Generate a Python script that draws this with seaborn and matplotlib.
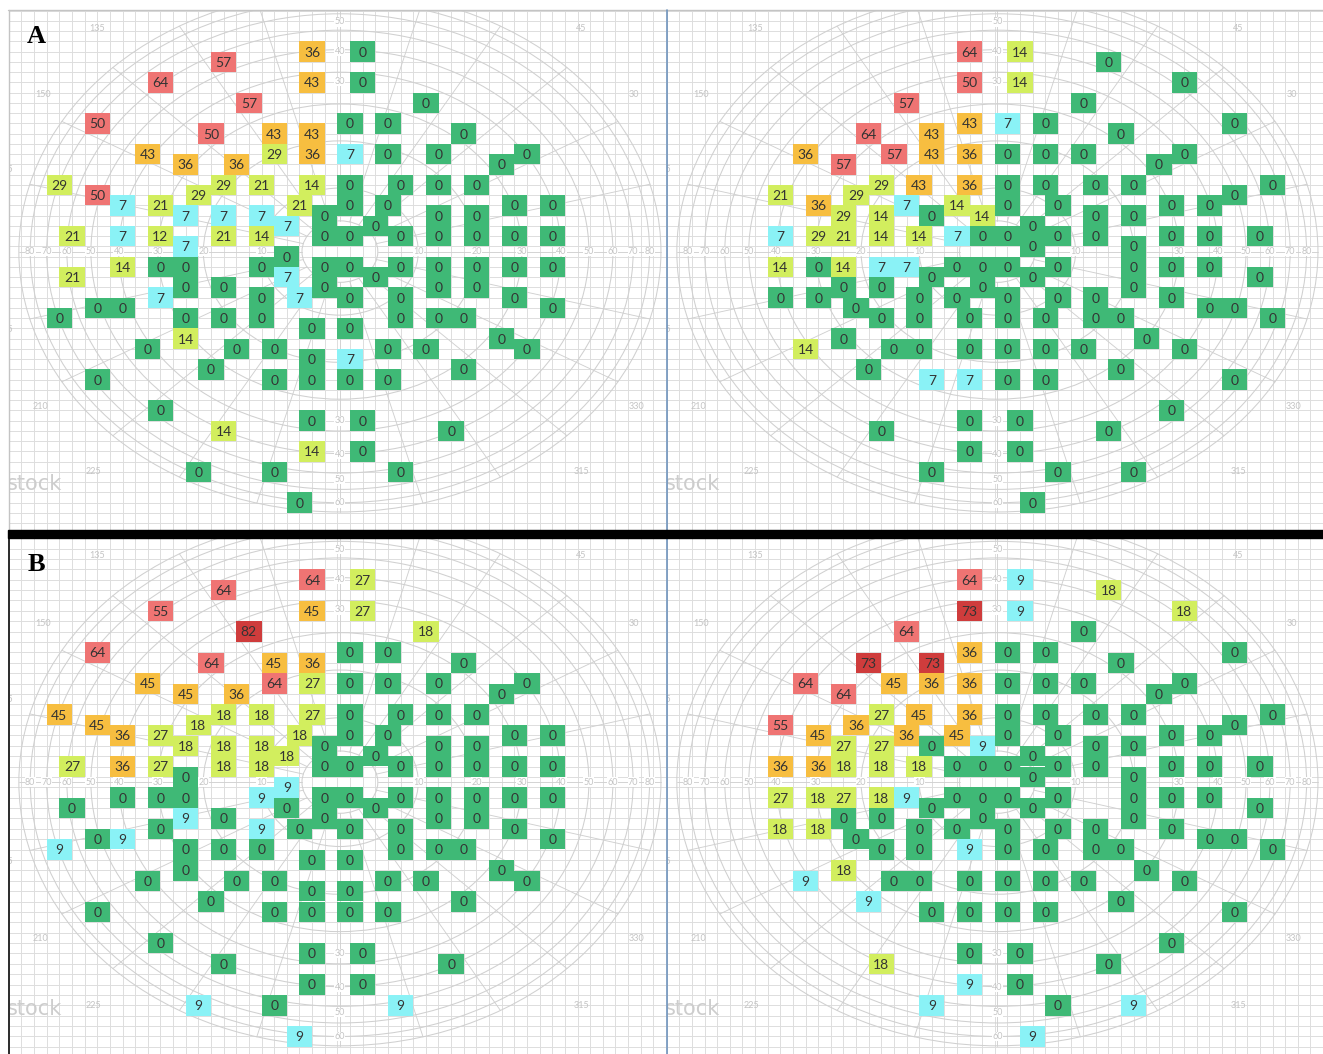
import numpy as np
import pandas as pd
import seaborn as sns
import matplotlib.pyplot as plt
from matplotlib.patches import Circle, Rectangle
from matplotlib.lines import Line2D

# === DATA: test points on the perimetry grid (row index, columns per row) ===
# left eye charts (A left, B left share the same test points)
LEFT_ROWS = [0, 1, 3, 5, 7, 8, 10, 11, 13, 14, 15, 16, 17, 18, 19, 20, 21, 22,
             23, 24, 25, 26, 27, 28, 29, 30, 31, 32, 35, 36, 37, 39, 41, 44]
LEFT_COLS = [
    [20, 24], [13], [8, 20, 24], [15, 29], [3, 23, 26], [12, 17, 20, 32],
    [7, 17, 20, 23, 26, 30, 37], [10, 14, 35], [0, 13, 16, 20, 23, 27, 30, 33],
    [3, 11], [5, 8, 19, 23, 26, 36, 39], [10, 13, 16, 21, 30, 33], [18, 25],
    [1, 5, 8, 13, 16, 21, 23, 27, 30, 33, 36, 39], [10], [18],
    [5, 8, 10, 16, 21, 23, 27, 30, 33, 36, 39], [1, 18, 25], [10, 13, 21, 30, 33],
    [8, 16, 19, 23, 27, 36], [3, 5, 39], [0, 10, 13, 16, 27, 30, 32], [20, 23],
    [10, 35], [7, 14, 17, 26, 29, 37], [20, 23], [12, 32], [3, 17, 20, 23, 26],
    [8], [20, 24], [13, 31], [20, 24], [11, 17, 27], [19],
]
A_LEFT_VALUES = [
    [36, 0], [57], [64, 43, 0], [57, 0], [50, 0, 0], [50, 43, 43, 0],
    [43, 29, 36, 7, 0, 0, 0], [36, 36, 0], [29, 29, 21, 14, 0, 0, 0, 0],
    [50, 29], [7, 21, 21, 0, 0, 0, 0], [7, 7, 7, 0, 0, 0], [7, 0],
    [21, 7, 12, 21, 14, 0, 0, 0, 0, 0, 0, 0], [7], [0],
    [14, 0, 0, 0, 0, 0, 0, 0, 0, 0, 0], [21, 7, 0], [0, 0, 0, 0, 0],
    [7, 0, 7, 0, 0, 0], [0, 0, 0], [0, 0, 0, 0, 0, 0, 0], [0, 0],
    [14, 0], [0, 0, 0, 0, 0, 0], [0, 7], [0, 0], [0, 0, 0, 0, 0],
    [0], [0, 0], [14, 0], [14, 0], [0, 0, 0], [0],
]
B_LEFT_VALUES = [
    [64, 27], [64], [55, 45, 27], [82, 18], [64, 0, 0], [64, 45, 36, 0],
    [45, 64, 27, 0, 0, 0, 0], [45, 36, 0], [45, 18, 18, 27, 0, 0, 0, 0],
    [45, 18], [36, 27, 18, 0, 0, 0, 0], [18, 18, 18, 0, 0, 0], [18, 0],
    [27, 36, 27, 18, 18, 0, 0, 0, 0, 0, 0, 0], [0], [9],
    [0, 0, 0, 9, 0, 0, 0, 0, 0, 0, 0], [0, 0, 0], [9, 0, 0, 0, 0],
    [0, 9, 0, 0, 0, 0], [0, 9, 0], [9, 0, 0, 0, 0, 0, 0], [0, 0],
    [0, 0], [0, 0, 0, 0, 0, 0], [0, 0], [0, 0], [0, 0, 0, 0, 0],
    [0], [0, 0], [0, 0], [0, 0], [9, 0, 9], [9],
]

# right eye charts (A right, B right)
RIGHT_ROWS = [0, 1, 3, 5, 7, 8, 10, 11, 13, 14, 15, 16, 17, 18, 19, 21, 22,
              23, 24, 25, 26, 28, 29, 31, 32, 35, 36, 37, 39, 41, 44]
RIGHT_COLS = [
    [20, 24], [31], [20, 24, 37], [15, 29], [20, 23, 26, 41], [12, 17, 32],
    [7, 14, 17, 20, 23, 26, 29, 37], [10, 35], [13, 16, 20, 23, 26, 30, 33, 44],
    [5, 11, 41], [8, 15, 19, 23, 27, 36, 39], [10, 13, 17, 21, 30, 33], [25],
    [5, 8, 10, 13, 16, 19, 21, 23, 27, 30, 36, 39, 43], [25, 33],
    [5, 8, 10, 13, 15, 19, 21, 23, 27, 33, 36, 39], [17, 25, 43],
    [10, 13, 21, 33], [5, 8, 16, 19, 23, 27, 30, 36], [11, 39, 41],
    [13, 16, 20, 23, 26, 30, 32, 44], [10, 34], [7, 14, 16, 20, 23, 26, 29, 37],
    [12, 32], [17, 20, 23, 26, 41], [36], [20, 24], [13, 31], [20, 24],
    [17, 27, 33], [25],
]
A_RIGHT_VALUES = [
    [64, 14], [0], [50, 14, 0], [57, 0], [43, 7, 0, 0], [64, 43, 0],
    [36, 57, 43, 36, 0, 0, 0, 0], [57, 0], [29, 43, 36, 0, 0, 0, 0, 0],
    [21, 29, 0], [36, 7, 14, 0, 0, 0, 0], [29, 14, 0, 14, 0, 0], [0],
    [7, 29, 21, 14, 14, 7, 0, 0, 0, 0, 0, 0, 0], [0, 0],
    [14, 0, 14, 7, 7, 0, 0, 0, 0, 0, 0, 0], [0, 0, 0],
    [0, 0, 0, 0], [0, 0, 0, 0, 0, 0, 0, 0], [0, 0, 0],
    [0, 0, 0, 0, 0, 0, 0, 0], [0, 0], [14, 0, 0, 0, 0, 0, 0, 0],
    [0, 0], [7, 7, 0, 0, 0], [0], [0, 0], [0, 0], [0, 0],
    [0, 0, 0], [0],
]
B_RIGHT_VALUES = [
    [64, 9], [18], [73, 9, 18], [64, 0], [36, 0, 0, 0], [73, 73, 0],
    [64, 45, 36, 36, 0, 0, 0, 0], [64, 0], [27, 45, 36, 0, 0, 0, 0, 0],
    [55, 36, 0], [45, 36, 45, 0, 0, 0, 0], [27, 27, 0, 9, 0, 0], [0],
    [36, 36, 18, 18, 18, 0, 0, 0, 0, 0, 0, 0, 0], [0, 0],
    [27, 18, 27, 18, 9, 0, 0, 0, 0, 0, 0, 0], [0, 0, 0],
    [0, 0, 0, 0], [18, 18, 0, 0, 0, 0, 0, 0], [0, 0, 0],
    [0, 0, 9, 0, 0, 0, 0, 0], [18, 0], [9, 0, 0, 0, 0, 0, 0, 0],
    [9, 0], [0, 0, 0, 0, 0], [0], [0, 0], [18, 0], [9, 0],
    [9, 0, 9], [9],
]

# === STYLE ===
BAND_COLORS = {
    "0": "#3fb976",
    "1-9": "#8af2f6",
    "10-29": "#d2ee5e",
    "30-49": "#f7be40",
    "50-69": "#ef7473",
    "70+": "#cf3c3c",
}
GRID_COLOR = "#dddddd"
RING_COLOR = "#d0d0d0"
LABEL_COLOR = "#c4c4c4"
CX, CY = 22.2, 19.5            # centre of the perimetry chart (grid units)
RING_RADII = [3.0, 6.2, 10.8, 14.4, 17.5, 19.7, 21.6, 23.2, 24.5, 25.4]
RADIAL_LABELS = [("135", -19.2, -21.8), ("150", -23.5, -15.3), ("45", 19.1, -21.8),
                 ("30", 23.3, -15.3), ("210", -23.7, 15.1), ("225", -19.5, 21.5),
                 ("330", 23.5, 15.1), ("315", 19.1, 21.5), ("165", -26.5, -8.0),
                 ("195", -26.5, 7.6)]
H_LABELS = [("10", 6.2), ("20", 10.8), ("30", 14.4), ("40", 17.5), ("50", 19.7),
            ("60", 21.6), ("70", 23.2), ("80", 24.5)]
V_LABELS = [("20", -13.4), ("30", -16.6), ("40", -19.5), ("50", -22.4),
            ("30", 16.5), ("40", 19.8), ("50", 22.2), ("60", 24.5)]

sns.set_theme(style="white")
plt.rcParams["font.family"] = ["Lato", "DejaVu Sans"]

W, H = 1323, 1054
fig = plt.figure(figsize=(W / 100, H / 100), dpi=100)
fig.patch.set_facecolor("white")


def band(v):
    if v == 0:
        return "0"
    if v < 10:
        return "1-9"
    if v < 30:
        return "10-29"
    if v < 50:
        return "30-49"
    if v < 70:
        return "50-69"
    return "70+"


def build_frame(rows, cols, values):
    recs = []
    for r, cs, vs in zip(rows, cols, values):
        assert len(cs) == len(vs), (r, cs, vs)
        for c, v in zip(cs, vs):
            recs.append((c, r, v))
    df = pd.DataFrame(recs, columns=["col", "row", "value"])
    df["band"] = df["value"].map(band)
    return df


def px_axes(x0, y0, x1, y1):
    return fig.add_axes([x0 / W, 1 - y1 / H, (x1 - x0) / W, (y1 - y0) / H])


def covered(df, c, r):
    # True when a test-point square hides this spot
    return bool(((df["col"] - c).abs().lt(1.2) & (df["row"] - r).abs().lt(1.2)).any())


def draw_background(ax, df):
    for c in range(-5, 50):
        ax.axvline(c, color=GRID_COLOR, lw=0.7, zorder=0)
    for r in range(-6, 48):
        ax.axhline(r, color=GRID_COLOR, lw=0.7, zorder=0)
    for rad in RING_RADII:
        ax.add_patch(Circle((CX, CY), rad, fill=False, ec=RING_COLOR, lw=0.75, zorder=1))
    for ang in range(0, 360, 15):
        t = np.deg2rad(ang)
        ax.plot([CX + 3 * np.cos(t), CX + 25.4 * np.cos(t)],
                [CY - 3 * np.sin(t), CY - 25.4 * np.sin(t)],
                color=RING_COLOR, lw=0.65, zorder=1)
    lab = dict(fontsize=6.5, color=LABEL_COLOR, ha="center", va="center", zorder=2,
               clip_on=True)
    for txt, dc, dr in RADIAL_LABELS:
        ax.text(CX + dc, CY + dr, txt, **lab)
    for txt, d in H_LABELS:
        for s in (-1, 1):
            if not covered(df, CX + s * d, CY):
                ax.text(CX + s * d, CY, txt, bbox=dict(fc="white", ec="none", pad=0.2), **lab)
    for txt, d in V_LABELS:
        if not covered(df, CX, CY + d):
            ax.text(CX, CY + d, txt, bbox=dict(fc="white", ec="none", pad=0.2), **lab)
    ax.text(-0.004, 0.088, "stock", transform=ax.transAxes, fontsize=15,
            color="#cdcdcd", ha="left", va="center", family="DejaVu Sans",
            zorder=2, clip_on=True)


# rectangle marker, 2 grid cells wide and 2 cells tall
RECT = [(-1, -0.81), (1, -0.81), (1, 0.81), (-1, 0.81), (-1, -0.81)]

panels = [
    ((9, 10, 666, 530), LEFT_ROWS, LEFT_COLS, A_LEFT_VALUES, (46.66, -4.07), "A"),
    ((667, 10, 1323, 530), RIGHT_ROWS, RIGHT_COLS, A_RIGHT_VALUES, (46.66, -4.07), None),
    ((9, 538, 666, 1054), LEFT_ROWS, LEFT_COLS, B_LEFT_VALUES, (45.69, -4.02), "B"),
    ((667, 538, 1323, 1054), RIGHT_ROWS, RIGHT_COLS, B_RIGHT_VALUES, (45.69, -4.02), None),
]

for box, rows, cols, vals, ylim, letter in panels:
    ax = px_axes(*box)
    df = build_frame(rows, cols, vals)
    draw_background(ax, df)
    sns.scatterplot(data=df, x="col", y="row", hue="band", palette=BAND_COLORS,
                    marker=RECT, s=332, linewidth=0, edgecolor="none", alpha=1,
                    legend=False, zorder=3, ax=ax)
    for c, r, v in zip(df["col"], df["row"], df["value"]):
        ax.text(c, r + 0.08, str(v), ha="center", va="center", fontsize=10,
                color="#333333", zorder=5)
    if letter:
        ax.text(-1.8, -1.5, letter, fontsize=19, fontweight="bold",
                family="Liberation Serif", color="black", ha="center", va="center",
                zorder=6)
    ax.set_xlim(-3.98, 48.0)
    ax.set_ylim(*ylim)
    ax.set_axis_off()


def fig_line(x0, y0, x1, y1, **kw):
    fig.add_artist(Line2D([x0 / W, x1 / W], [1 - y0 / H, 1 - y1 / H],
                          transform=fig.transFigure, **kw))


fig_line(8, 10, W, 10, color="#c4c4c4", lw=1.0)
fig_line(8.5, 10, 8.5, 530, color="#c4c4c4", lw=1.0)
fig_line(8.5, 538, 8.5, H, color="#2b2b2b", lw=1.4)
fig_line(666.5, 10, 666.5, H, color="#6f93bc", lw=1.2)
fig.add_artist(Rectangle((8 / W, 1 - 537.5 / H), (W - 8) / W, 7.5 / H,
                         color="black", transform=fig.transFigure, zorder=10))

fig.savefig("out.png", dpi=100, facecolor="white")
